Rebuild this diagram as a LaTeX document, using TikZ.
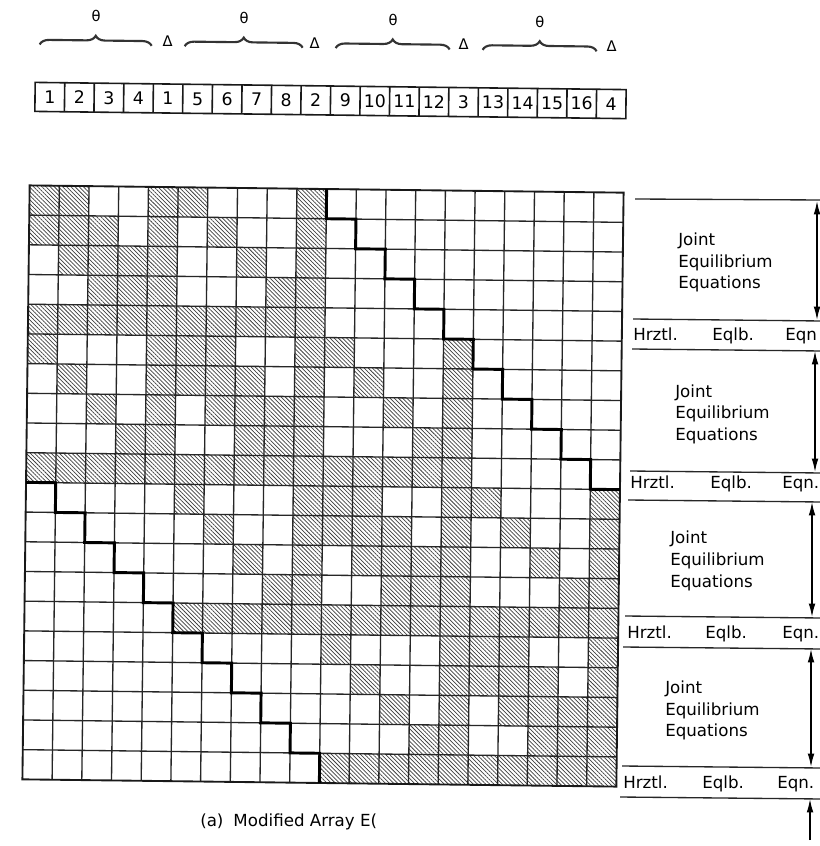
\documentclass[tikz,border=0pt]{standalone}
\usepackage{fontspec}
\setmainfont{DejaVu Sans}
\usetikzlibrary{patterns.meta,decorations.pathreplacing,arrows.meta}
\def\gridXo{26}
\def\gridYo{189}
\def\gridS{29.7}
\begin{document}
\begin{tikzpicture}[x=0.75pt,y=-0.75pt,
  hatch/.style={pattern={Lines[angle=-45,distance=2.2pt,line width=0.55pt]},pattern color=black!75},
  gridline/.style={line width=1pt,draw=black!85},
  gridborder/.style={line width=1.4pt,draw=black!90},
  stair/.style={line width=2.2pt,draw=black,line join=miter},
  arrbox/.style={line width=1.2pt,draw=black!90},
  cellnum/.style={inner sep=0pt,font=\fontsize{13}{15}\selectfont},
  greek/.style={inner sep=0pt,font=\fontsize{11}{13}\selectfont},
  overbr/.style={decorate,decoration={brace,amplitude=7pt,aspect=0.5},line width=1.6pt,draw=black!80},
  lbl/.style={inner sep=0pt,anchor=base west,font=\fontsize{12.5}{15}\selectfont},
  sepline/.style={line width=1pt,draw=black!85},
  dimarrow/.style={line width=1pt,draw=black,{Latex[length=10pt,width=5pt]}-{Latex[length=10pt,width=5pt]}},
  uparrow/.style={line width=1pt,draw=black,-{Latex[length=10pt,width=5pt]}}
]
\useasboundingbox (0,0) rectangle (820,846);
\fill[white] (0,0) rectangle (820,846);

% ---------------- main matrix ----------------
\begin{scope}[rotate around={-0.7:(323,486)}]
\foreach \r/\cols in {1/{1,2,5,6,10},2/{1,2,3,5,7,10},3/{2,3,4,5,8,10},4/{3,4,5,9,10},5/{1,...,10},
  6/{1,5,6,7,10,11,15},7/{2,5,6,7,8,10,12,15},8/{3,5,7,8,9,10,13,15},9/{4,5,8,9,10,14,15},10/{1,...,15},
  11/{6,10,11,12,15,16,20},12/{7,10,11,12,13,15,17,20},13/{8,10,12,13,14,15,18,20},14/{9,10,13,14,15,19,20},15/{6,...,20},
  16/{11,15,16,17,20},17/{12,15,16,17,18,20},18/{13,15,17,18,19,20},19/{14,15,18,19,20},20/{11,...,20}}
  {\foreach \c in \cols
    {\fill[hatch] ({\gridXo+(\c-1)*\gridS},{\gridYo+(\r-1)*\gridS}) rectangle ++(\gridS,\gridS);}}
\foreach \k in {1,...,19}{
  \draw[gridline] ({\gridXo+\k*\gridS},\gridYo) -- ++(0,594);
  \draw[gridline] (\gridXo,{\gridYo+\k*\gridS}) -- ++(594,0);
}
\draw[gridborder] (\gridXo,\gridYo) rectangle ++(594,594);
% upper staircase
\draw[stair] ({\gridXo+10*\gridS},\gridYo)
  \foreach \i in {0,...,9}{ -- ({\gridXo+(10+\i)*\gridS},{\gridYo+(\i+1)*\gridS}) -- ({\gridXo+(11+\i)*\gridS},{\gridYo+(\i+1)*\gridS}) };
% lower staircase
\draw[stair] (\gridXo,{\gridYo+10*\gridS})
  \foreach \i in {0,...,9}{ -- ({\gridXo+(\i+1)*\gridS},{\gridYo+(10+\i)*\gridS}) -- ({\gridXo+(\i+1)*\gridS},{\gridYo+(11+\i)*\gridS}) };
\end{scope}

% ---------------- top array ----------------
\begin{scope}[rotate around={-0.7:(330,100)}]
\draw[arrbox] (35,86) rectangle (626,115);
\foreach \k in {1,...,19}{\draw[arrbox] ({35+\k*29.55},86) -- ({35+\k*29.55},115);}
\foreach \lab [count=\i] in {1,2,3,4,1,5,6,7,8,2,9,10,11,12,3,13,14,15,16,4}
  {\node[cellnum] (cell\i) at ({35+(\i-0.5)*29.55},100.5) {\lab};}
\draw[overbr] (39,48) -- (151,48);
\draw[overbr] (184,48) -- (302,48);
\draw[overbr] (335,48) -- (449,48);
\draw[overbr] (482,48) -- (596,48);
\node[greek] (th1) at (95,19) {θ};
\node[greek] (th2) at (243,19) {θ};
\node[greek] (th3) at (392,19) {θ};
\node[greek] (th4) at (539,19) {θ};
\node[greek] (d1) at (167,43) {Δ};
\node[greek] (d2) at (314,43) {Δ};
\node[greek] (d3) at (463,43) {Δ};
\node[greek] (d4) at (611,43) {Δ};
\end{scope}

% ---------------- right annotations ----------------
\draw[sepline] (635,199) -- (822,200);
\draw[sepline] (633,319) -- (822,321);
\draw[sepline] (632,349) -- (822,351);
\draw[sepline] (630,471) -- (822,473);
\draw[sepline] (628,500) -- (822,502);
\draw[sepline] (625,616) -- (822,618);
\draw[sepline] (623,647) -- (822,649);
\draw[sepline] (622,766) -- (822,768);
\draw[sepline] (620,797) -- (822,799);

\node[lbl] (j1a) at (678,245) {Joint};
\node[lbl] (j1b) at (678,267) {Equilibrium};
\node[lbl] (j1c) at (678,288) {Equations};
\node[lbl] (h1a) at (633,340) {Hrztl.};
\node[lbl] (h1b) at (712,340) {Eqlb.};
\node[lbl] (h1c) at (785,340) {Eqn};

\node[lbl] (j2a) at (675,397) {Joint};
\node[lbl] (j2b) at (675,418) {Equilibrium};
\node[lbl] (j2c) at (675,440) {Equations};
\node[lbl] (h2a) at (630,488) {Hrztl.};
\node[lbl] (h2b) at (710,488) {Eqlb.};
\node[lbl] (h2c) at (782,488) {Eqn.};

\node[lbl] (j3a) at (670,543) {Joint};
\node[lbl] (j3b) at (670,565) {Equilibrium};
\node[lbl] (j3c) at (670,587) {Equations};
\node[lbl] (h3a) at (627,638) {Hrztl.};
\node[lbl] (h3b) at (705,638) {Eqlb.};
\node[lbl] (h3c) at (782,638) {Eqn.};

\node[lbl] (j4a) at (665,693) {Joint};
\node[lbl] (j4b) at (665,715) {Equilibrium};
\node[lbl] (j4c) at (665,736) {Equations};
\node[lbl] (h4a) at (623,788) {Hrztl.};
\node[lbl] (h4b) at (702,788) {Eqlb.};
\node[lbl] (h4c) at (777,788) {Eqn.};

\coordinate (a1t) at (817,201);
\coordinate (a1b) at (817,320);
\coordinate (a2t) at (815,351);
\coordinate (a2b) at (815,472);
\coordinate (a3t) at (812,502);
\coordinate (a3b) at (812,617);
\coordinate (a4t) at (811,649);
\coordinate (a4b) at (811,767);
\coordinate (a5t) at (810,799);
\coordinate (a5b) at (810,840);
\draw[dimarrow] (a1t) -- (a1b);
\draw[dimarrow] (a2t) -- (a2b);
\draw[dimarrow] (a3t) -- (a3b);
\draw[dimarrow] (a4t) -- (a4b);
\draw[uparrow] (a5b) -- (a5t);

% ---------------- caption ----------------
\node[lbl,anchor=west] (cap) at (200,822) {(a)\hspace{0.6em}Modified Array E(};
\end{tikzpicture}
\end{document}
